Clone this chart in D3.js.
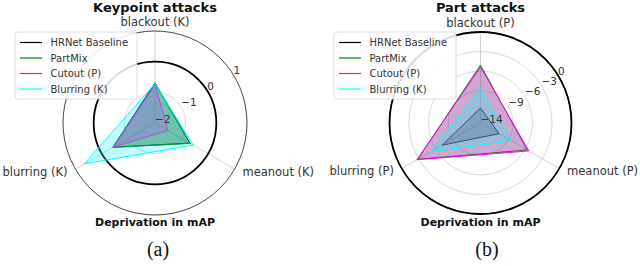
<!DOCTYPE html>
<html lang="en">
<head>
    <meta charset="UTF-8">
    <title>Deprivation in mAP - radar charts</title>
    <script src="https://d3js.org/d3.v7.min.js"></script>
    <style>
        body { margin: 0; background: #fff; }
        svg { display: block; font-family: "DejaVu Sans", sans-serif; }
    </style>
</head>
<body>
    <div id="chart"></div>

    <script>
        // Axis names per panel
        const axesA = ["blackout (K)", "meanout (K)", "blurring (K)"];
        const axesB = ["blackout (P)", "meanout (P)", "blurring (P)"];

        // Legend entries
        const seriesNames = ["HRNet Baseline", "PartMix", "Cutout (P)", "Blurring (K)"];
        const seriesColors = ["#000000", "#008000", "#ff00ff", "#00ffff"];

        // (a) Keypoint attacks - values in order of axesA
        const baselineA = [-0.70, -0.69, -0.42];
        const partmixA = [-0.69, -0.67, -0.41];
        const cutoutA = [-0.75, -1.51, -0.45];
        const blurringA = [-0.72, -0.56, 0.66];

        // (b) Part attacks - values in order of axesB
        const baselineB = [-11.7, -10.7, -7.2];
        const partmixB = [-5.1, -5.7, -2.85];
        const cutoutB = [-5.4, -5.4, -2.7];
        const blurringB = [-8.7, -8.5, -5.1];

        // radial ticks
        const ticksA = [-2, -1, 0, 1];
        const ticksB = [-14, -9, -6, -3, 0];

        const width = 640, height = 266;
        const svg = d3.select("#chart").append("svg")
            .attr("width", width)
            .attr("height", height);

        function drawPanel(opts) {
            const g = svg.append("g");
            const cx = opts.cx, cy = opts.cy, R = opts.radius;
            const r = d3.scaleLinear().domain(opts.domain).range([0, R]);
            const angles = [90, -30, 210].map(a => a * Math.PI / 180);
            const pt = (a, rad) => [cx + rad * Math.cos(a), cy - rad * Math.sin(a)];

            // grid rings
            g.selectAll(".ring")
                .data(opts.ticks.filter(t => r(t) > 0))
                .enter().append("circle")
                .attr("cx", cx).attr("cy", cy)
                .attr("r", d => r(d))
                .attr("fill", "none")
                .attr("stroke", "#cfcfcf")
                .attr("stroke-width", 0.8);

            // spokes
            g.selectAll(".spoke")
                .data(angles)
                .enter().append("line")
                .attr("x1", cx).attr("y1", cy)
                .attr("x2", d => pt(d, R)[0])
                .attr("y2", d => pt(d, R)[1])
                .attr("stroke", "#c8c8c8")
                .attr("stroke-width", 0.8);

            // outer frame
            g.append("circle")
                .attr("cx", cx).attr("cy", cy).attr("r", R)
                .attr("fill", "none")
                .attr("stroke", "#444")
                .attr("stroke-width", 0.9);

            // zero reference circle
            g.append("circle")
                .attr("cx", cx).attr("cy", cy).attr("r", r(0))
                .attr("fill", "none")
                .attr("stroke", "#000")
                .attr("stroke-width", 1.8);

            // series polygons
            const line = d3.line().x(d => d[0]).y(d => d[1]);
            opts.series.forEach((vals, i) => {
                const pts = vals.map((v, j) => pt(angles[j], r(v)));
                pts.push(pts[0]);
                g.append("path")
                    .attr("d", line(pts))
                    .attr("fill", seriesColors[i])
                    .attr("fill-opacity", 0.25)
                    .attr("stroke", seriesColors[i])
                    .attr("stroke-width", 1)
                    .attr("stroke-linejoin", "miter");
            });

            // radial tick labels
            const la = 31.5 * Math.PI / 180;
            g.selectAll(".tick")
                .data(opts.ticks)
                .enter().append("text")
                .attr("x", d => pt(la, r(d))[0])
                .attr("y", d => pt(la, r(d))[1] - 0.5)
                .attr("font-size", "10.5px")
                .attr("fill", "#333")
                .text(d => d3.format("")(d).replace("-", "\u2212"));

            // axis labels
            const anchors = ["middle", "start", "end"];
            g.selectAll(".axlabel")
                .data(opts.axes)
                .enter().append("text")
                .attr("x", (d, i) => pt(angles[i], R + 9)[0])
                .attr("y", (d, i) => i === 0 ? cy - R - 9 - 0.5 : pt(angles[i], R + 9)[1] - 2)
                .attr("dy", "0.35em")
                .attr("text-anchor", (d, i) => anchors[i])
                .attr("font-size", "11.5px")
                .attr("fill", "#333")
                .text(d => d);

            // title
            g.append("text")
                .attr("x", cx).attr("y", 12)
                .attr("text-anchor", "middle")
                .attr("font-size", "13px")
                .attr("font-weight", "bold")
                .attr("fill", "#111")
                .text(opts.title);

            // radial axis label
            g.append("text")
                .attr("x", cx).attr("y", 226)
                .attr("text-anchor", "middle")
                .attr("font-size", "11px")
                .attr("font-weight", "bold")
                .attr("fill", "#111")
                .text("Deprivation in mAP");

            // caption
            g.append("text")
                .attr("x", opts.captionX).attr("y", 256)
                .attr("text-anchor", "middle")
                .attr("font-family", "'Liberation Serif', serif")
                .attr("font-size", "20px")
                .attr("fill", "#111")
                .text(opts.caption);

            // legend
            const lg = g.append("g").attr("transform", `translate(${opts.legendX},32)`);
            lg.append("rect")
                .attr("width", 122).attr("height", 67)
                .attr("rx", 3)
                .attr("fill", "#fff").attr("fill-opacity", 0.85)
                .attr("stroke", "#d4d4d4").attr("stroke-width", 0.8);
            seriesNames.forEach((name, i) => {
                const y = 10.5 + i * 15.5;
                lg.append("line")
                    .attr("x1", 5).attr("x2", 27)
                    .attr("y1", y).attr("y2", y)
                    .attr("stroke", seriesColors[i])
                    .attr("stroke-width", 1.2);
                lg.append("text")
                    .attr("x", 35.5).attr("y", y)
                    .attr("dy", "0.35em")
                    .attr("font-size", "10px")
                    .attr("fill", "#333")
                    .text(name);
            });
        }

        drawPanel({
            cx: 155, cy: 123, radius: 92,
            domain: [-2, 1], ticks: ticksA,
            axes: axesA,
            series: [baselineA, partmixA, cutoutA, blurringA],
            title: "Keypoint attacks", caption: "(a)", captionX: 158, legendX: 15
        });

        drawPanel({
            cx: 480.5, cy: 123, radius: 91,
            domain: [-14, 0], ticks: ticksB,
            axes: axesB,
            series: [baselineB, partmixB, cutoutB, blurringB],
            title: "Part attacks", caption: "(b)", captionX: 487, legendX: 334
        });
    </script>
</body>
</html>
